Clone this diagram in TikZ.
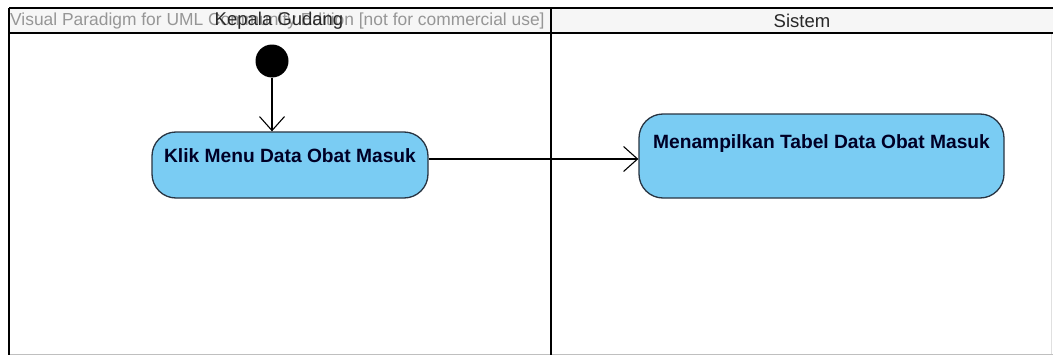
\documentclass[tikz,border=0pt]{standalone}
\usepackage{fontspec}
\setmainfont{Liberation Sans}
\usetikzlibrary{arrows.meta}
\definecolor{actfill}{RGB}{122,204,243}
\definecolor{actdraw}{RGB}{40,52,66}
\definecolor{hdrfill}{RGB}{246,246,246}
\definecolor{wmark}{RGB}{150,150,150}
\definecolor{lanetext}{RGB}{40,40,40}
\tikzset{
  action/.style={draw=actdraw, fill=actfill, line width=1.3pt, rounded corners=24pt,
    inner xsep=0pt, inner ysep=0pt, font=\fontsize{19.2}{21}\selectfont\bfseries, text=black!85!blue},
  initial/.style={circle, fill=black, minimum size=33pt, inner sep=0pt},
  flow/.style={draw=black, line width=1.1pt, -{Straight Barb[length=14pt,width=25pt,line width=1.1pt]}},
  lane/.style={line width=2.6pt, draw=black},
  lanetitle/.style={font=\fontsize{18.5}{20}\selectfont, text=lanetext, inner sep=0pt},
  watermark/.style={font=\fontsize{17.4}{19}\selectfont, text=wmark, inner sep=0pt, anchor=west}
}
\begin{document}
\begin{tikzpicture}[x=1pt,y=-1pt]
\useasboundingbox (0,0) rectangle (1053,356);
\fill[white] (0,0) rectangle (1053,356);
% header background
\fill[hdrfill] (9,8) rectangle (1053,33);
% lanes
\draw[black!25, line width=0.8pt] (9,354) -- (1053,354);
\draw[black!12, line width=0.8pt] (1051,33) -- (1051,354);
\draw[lane, line width=2pt] (9,8) -- (1053,8);
\draw[lane, line width=2pt] (9,8) -- (9,355);
\draw[lane] (9,33) -- (1053,33);
\draw[lane] (551,8) -- (551,355);
% header texts
\node[watermark] (wm) at (10,21) {Visual Paradigm for UML Community Edition [not for commercial use]};
\node[lanetitle] (l1) at (279,21) {Kepala Gudang};
\node[lanetitle] (l2) at (802,21) {Sistem};
% nodes
\node[initial] (init) at (272,61) {};
\node[action, minimum width=276pt, text height=30pt, text depth=36pt] (a1) at (290,165) {Klik Menu Data Obat Masuk};
\node[action, minimum width=365pt, text height=34pt, text depth=50pt] (a2) at (821.5,156) {Menampilkan Tabel Data Obat Masuk};
% connectors
\draw[flow] (init) -- (init |- a1.north);
\draw[flow] (a1.east |- 0,159) -- (a2.west |- 0,159);
\end{tikzpicture}
\end{document}
